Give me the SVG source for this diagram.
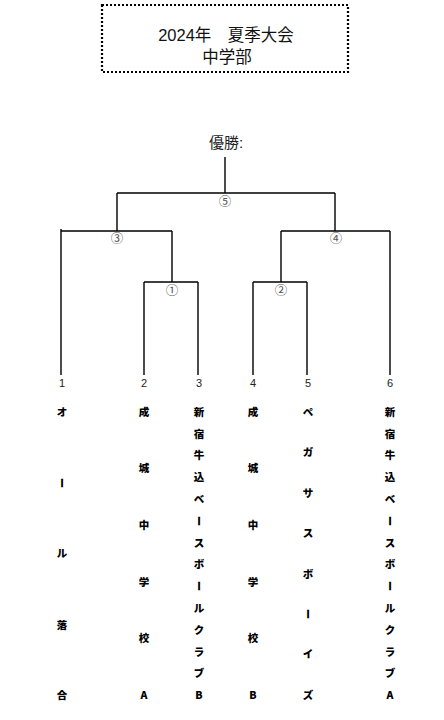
<svg xmlns="http://www.w3.org/2000/svg" width="444" height="720" viewBox="0 0 444 720">
<style>
.ttl{font-family:"Liberation Sans","Noto Sans CJK JP",sans-serif;font-size:16.5px;fill:#111;text-anchor:middle}
.win{font-family:"Liberation Sans","Noto Sans CJK JP",sans-serif;font-size:15px;fill:#222;text-anchor:middle}
.cn{font-family:"Noto Sans CJK JP",sans-serif;font-size:12.5px;fill:#555;text-anchor:middle}
.num{font-family:"Liberation Sans","Noto Sans CJK JP",sans-serif;font-size:11px;fill:#222;text-anchor:middle}
.tm{font-family:"Noto Sans CJK JP",sans-serif;font-size:10.5px;font-weight:900;fill:#000;text-anchor:middle}
.ln{stroke:#000;stroke-width:1.4;fill:none}
</style>
<g id="title">
<rect x="102" y="5" width="246" height="67" fill="none" stroke="#000" stroke-width="2.2" stroke-dasharray="2 2"/>
<text class="ttl" x="226" y="41">2024年　夏季大会</text>
<text class="ttl" x="227" y="63">中学部</text>
</g>
<g id="winner"><text class="win" x="226" y="148">優勝:</text></g>
<g id="connectors" class="ln">
<path class="ln" d="M225 157V193M117 193H335M117 193V231M335 193V231"/>
<path class="ln" d="M61 231H172M61 229V375M172 231V282M144 282H198M144 282V375M198 282V375"/>
<path class="ln" d="M281 231H390M390 231V375M281 231V282M253 282H307M253 282V375M307 282V375"/>
</g>
<g id="matches">
<text class="cn" x="225" y="206">⑤</text>
<text class="cn" x="117" y="243">③</text>
<text class="cn" x="336" y="243">④</text>
<text class="cn" x="172" y="295">①</text>
<text class="cn" x="281" y="295">②</text>
</g>
<g id="team1">
<text class="num" x="62" y="387">1</text>
<text class="tm" x="62" y="416">オ</text>
<text class="tm" x="62" y="487" transform="rotate(90 62 483)">ー</text>
<text class="tm" x="62" y="557">ル</text>
<text class="tm" x="62" y="629">落</text>
<text class="tm" x="62" y="699">合</text>
</g>
<g id="team2">
<text class="num" x="144" y="387">2</text>
<text class="tm" x="144" y="416">成</text>
<text class="tm" x="144" y="472">城</text>
<text class="tm" x="144" y="529">中</text>
<text class="tm" x="144" y="586">学</text>
<text class="tm" x="144" y="642">校</text>
<text class="tm" x="144" y="699">A</text>
</g>
<g id="team3">
<text class="num" x="199" y="387">3</text>
<text class="tm" x="199" y="416">新</text>
<text class="tm" x="199" y="438">宿</text>
<text class="tm" x="199" y="459">牛</text>
<text class="tm" x="199" y="481">込</text>
<text class="tm" x="199" y="503">ベ</text>
<text class="tm" x="199" y="525" transform="rotate(90 199 521)">ー</text>
<text class="tm" x="199" y="547">ス</text>
<text class="tm" x="199" y="568">ボ</text>
<text class="tm" x="199" y="590" transform="rotate(90 199 586)">ー</text>
<text class="tm" x="199" y="612">ル</text>
<text class="tm" x="199" y="634">ク</text>
<text class="tm" x="199" y="656">ラ</text>
<text class="tm" x="199" y="677">ブ</text>
<text class="tm" x="199" y="699">B</text>
</g>
<g id="team4">
<text class="num" x="253" y="387">4</text>
<text class="tm" x="253" y="416">成</text>
<text class="tm" x="253" y="472">城</text>
<text class="tm" x="253" y="529">中</text>
<text class="tm" x="253" y="586">学</text>
<text class="tm" x="253" y="642">校</text>
<text class="tm" x="253" y="699">B</text>
</g>
<g id="team5">
<text class="num" x="308" y="387">5</text>
<text class="tm" x="308" y="416">ペ</text>
<text class="tm" x="308" y="456">ガ</text>
<text class="tm" x="308" y="497">サ</text>
<text class="tm" x="308" y="537">ス</text>
<text class="tm" x="308" y="578">ボ</text>
<text class="tm" x="308" y="618" transform="rotate(90 308 614)">ー</text>
<text class="tm" x="308" y="658">イ</text>
<text class="tm" x="308" y="699">ズ</text>
</g>
<g id="team6">
<text class="num" x="390" y="387">6</text>
<text class="tm" x="390" y="416">新</text>
<text class="tm" x="390" y="438">宿</text>
<text class="tm" x="390" y="459">牛</text>
<text class="tm" x="390" y="481">込</text>
<text class="tm" x="390" y="503">ベ</text>
<text class="tm" x="390" y="525" transform="rotate(90 390 521)">ー</text>
<text class="tm" x="390" y="547">ス</text>
<text class="tm" x="390" y="568">ボ</text>
<text class="tm" x="390" y="590" transform="rotate(90 390 586)">ー</text>
<text class="tm" x="390" y="612">ル</text>
<text class="tm" x="390" y="634">ク</text>
<text class="tm" x="390" y="656">ラ</text>
<text class="tm" x="390" y="677">ブ</text>
<text class="tm" x="390" y="699">A</text>
</g>
</svg>
